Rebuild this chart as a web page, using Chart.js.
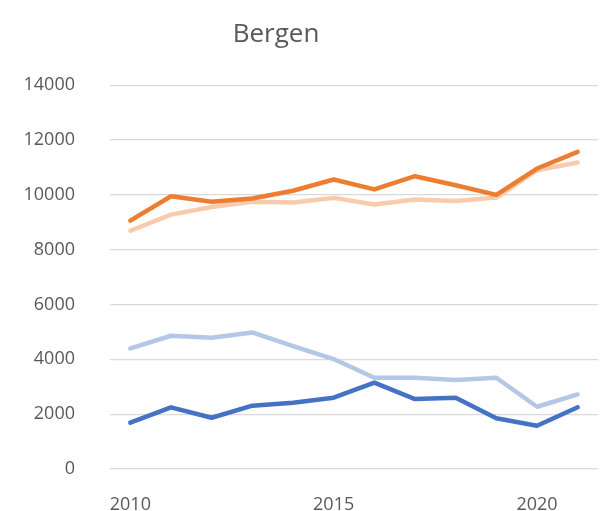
<!DOCTYPE html>
<html lang="en">
<head>
    <meta charset="UTF-8">
    <title>Bergen</title>
    <script src="https://cdn.jsdelivr.net/npm/chart.js"></script>
    <style>
        body {
            margin: 0;
            background-color: #fff;
        }
        .chart-box {
            width: 607px;
            height: 511px;
        }
    </style>
</head>
<body>
    <div class="chart-box">
        <canvas id="chart" width="607" height="511"></canvas>
    </div>

    <script>
        const years = ['2010', '2011', '2012', '2013', '2014', '2015', '2016', '2017', '2018', '2019', '2020', '2021'];
        const darkOrange = [9060, 9950, 9750, 9870, 10150, 10560, 10200, 10680, 10350, 10000, 10960, 11570];
        const lightOrange = [8690, 9280, 9560, 9750, 9720, 9890, 9650, 9830, 9780, 9900, 10900, 11180];
        const lightBlue = [4400, 4860, 4790, 4980, 4480, 4010, 3330, 3330, 3250, 3330, 2270, 2720];
        const darkBlue = [1690, 2250, 1870, 2310, 2420, 2600, 3150, 2550, 2600, 1850, 1580, 2250];
        const yTicks = [0, 2000, 4000, 6000, 8000, 10000, 12000, 14000];
        const shownYears = ['2010', '2015', '2020'];

        const textColor = '#595959';
        const font = 'Open Sans';

        function line(data, color, order) {
            return {
                data: data,
                borderColor: color,
                backgroundColor: color,
                borderWidth: 4.5,
                borderCapStyle: 'round',
                borderJoinStyle: 'round',
                pointRadius: 0,
                tension: 0,
                order: order
            };
        }

        // the title in the original sits a bit left of the middle
        const titleShift = {
            id: 'titleShift',
            afterLayout(chart) {
                const t = chart.titleBlock;
                if (t) {
                    t.left = 0;
                    t.right = 552;
                }
            }
        };

        const ctx = document.getElementById('chart').getContext('2d');
        new Chart(ctx, {
            type: 'line',
            data: {
                labels: years,
                datasets: [
                    line(darkBlue, '#4472C4', 2),
                    line(darkOrange, '#ED7D31', 1),
                    line(lightBlue, '#B4C7E7', 4),
                    line(lightOrange, '#F8CBAD', 3)
                ]
            },
            plugins: [titleShift],
            options: {
                responsive: false,
                animation: false,
                layout: {
                    padding: { left: 20, right: 9, top: 0, bottom: 0 }
                },
                plugins: {
                    legend: { display: false },
                    tooltip: { enabled: false },
                    title: {
                        display: true,
                        text: 'Bergen',
                        color: textColor,
                        font: { family: font, size: 26, weight: 'normal', lineHeight: 1.2 },
                        padding: { top: 19, bottom: 35 }
                    }
                },
                scales: {
                    x: {
                        offset: true,
                        grid: { display: false, drawTicks: false },
                        border: { display: false },
                        afterFit: function (axis) {
                            axis.height = 42;
                        },
                        ticks: {
                            autoSkip: false,
                            maxRotation: 0,
                            padding: 27,
                            color: textColor,
                            font: { family: font, size: 18, lineHeight: 1 },
                            callback: function (value, index) {
                                const label = years[index];
                                return shownYears.includes(label) ? label : '';
                            }
                        }
                    },
                    y: {
                        min: 0,
                        max: 14000,
                        afterBuildTicks: function (axis) {
                            axis.ticks = yTicks.map(v => ({ value: v }));
                        },
                        afterFit: function (axis) {
                            axis.width = 90;
                        },
                        grid: {
                            color: '#D9D9D9',
                            lineWidth: 1.2,
                            drawTicks: true,
                            tickLength: 33,
                            tickColor: 'rgba(0,0,0,0)'
                        },
                        border: { display: false },
                        ticks: {
                            padding: 2,
                            color: textColor,
                            font: { family: font, size: 18 },
                            callback: function (value) {
                                return String(value);
                            }
                        }
                    }
                }
            }
        });
    </script>
</body>
</html>
